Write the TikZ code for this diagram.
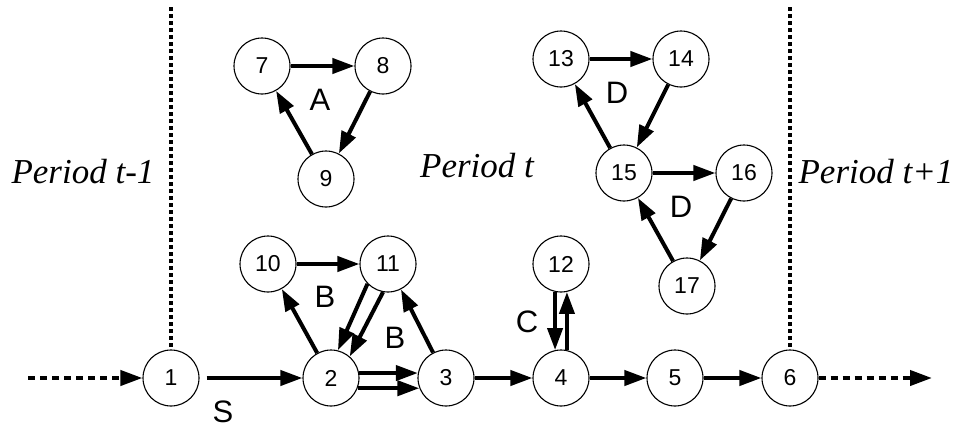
\documentclass[tikz,border=0pt]{standalone}
\usepackage{fontspec}
\setmainfont{Liberation Serif}
\setsansfont{Liberation Sans}
\usetikzlibrary{arrows.meta}

\begin{document}
\begin{tikzpicture}[
    x=1pt, y=-1pt,
    state/.style={circle, draw, line width=1.1pt, minimum size=56pt, inner sep=0pt, font=\sffamily\fontsize{23}{25}\selectfont},
    arr/.style={-{Triangle[length=22pt,width=15pt]}, line width=4pt},
    dotarr/.style={-{Triangle[length=22pt,width=15pt]}, line width=4pt, dash pattern=on 7pt off 5pt},
    border/.style={line width=3.8pt, dash pattern=on 4pt off 3pt},
    cyc/.style={font=\sffamily\fontsize{31}{33}\selectfont},
    period/.style={font=\itshape\fontsize{35}{37}\selectfont}
]
    \useasboundingbox (0,0) rectangle (962,434);

    % main chain
    \node[state] (n1) at (171,378) {1};
    \node[state] (n2) at (331,378) {2};
    \node[state] (n3) at (446,378) {3};
    \node[state] (n4) at (561,378) {4};
    \node[state] (n5) at (675,378) {5};
    \node[state] (n6) at (790,378) {6};
    % cycle A
    \node[state] (n7) at (262,66)  {7};
    \node[state] (n8) at (383,66)  {8};
    \node[state] (n9) at (326,179) {9};
    % cycle B and C
    \node[state] (n10) at (268,264) {10};
    \node[state] (n11) at (388,264) {11};
    \node[state] (n12) at (561,264) {12};
    % cycles D
    \node[state] (n13) at (561,59)  {13};
    \node[state] (n14) at (681,59)  {14};
    \node[state] (n15) at (624,173) {15};
    \node[state] (n16) at (744,173) {16};
    \node[state] (n17) at (687,286) {17};

    % period borders
    \coordinate (top1) at (171,7);
    \coordinate (top6) at (790,7);
    \coordinate (in) at (28,378);
    \coordinate (out) at (932,378);
    \draw[border] (top1) -- (n1.north);
    \draw[border] (top6) -- (n6.north);
    \draw[dotarr] (in) -- (n1);
    \draw[dotarr] (n6) -- (out);

    \node[period] (pl) at (83,172)  {Period t-1};
    \node[period] (pm) at (477,166) {Period t};
    \node[period] (pr) at (876,172) {Period t+1};

    \draw[arr, shorten <=7pt] (n1) -- (n2);
    \draw[arr] (n2.10) -- (n3.170);
    \draw[arr] (n2.-21) -- (n3.201);
    \draw[arr] (n3) -- (n4);
    \draw[arr] (n4) -- (n5);
    \draw[arr] (n5) -- (n6);

    \draw[arr] (n7) -- (n8);
    \draw[arr] (n8) -- (n9);
    \draw[arr] (n9) -- (n7);

    \draw[arr] (n2) -- (n10);
    \draw[arr] (n10) -- (n11);
    \draw[arr] (n11.224) -- (n2.76);
    \draw[arr] (n11.260) -- (n2.49);
    \draw[arr] (n3) -- (n11);

    \draw[arr] (n12.258) -- (n4.102);
    \draw[arr] (n4.78) -- (n12.282);

    \draw[arr] (n13) -- (n14);
    \draw[arr] (n14) -- (n15);
    \draw[arr] (n15) -- (n13);
    \draw[arr] (n15) -- (n16);
    \draw[arr] (n16) -- (n17);
    \draw[arr] (n17) -- (n15);

    % cycle labels
    \node[cyc] (la) at (320,100) {A};
    \node[cyc] (lb1) at (325,297) {B};
    \node[cyc] (lb2) at (395,338) {B};
    \node[cyc] (lc) at (527,322) {C};
    \node[cyc] (ld1) at (617,93)  {D};
    \node[cyc] (ld2) at (681,207) {D};
    \node[cyc] (ls) at (223,412) {S};
\end{tikzpicture}
\end{document}
